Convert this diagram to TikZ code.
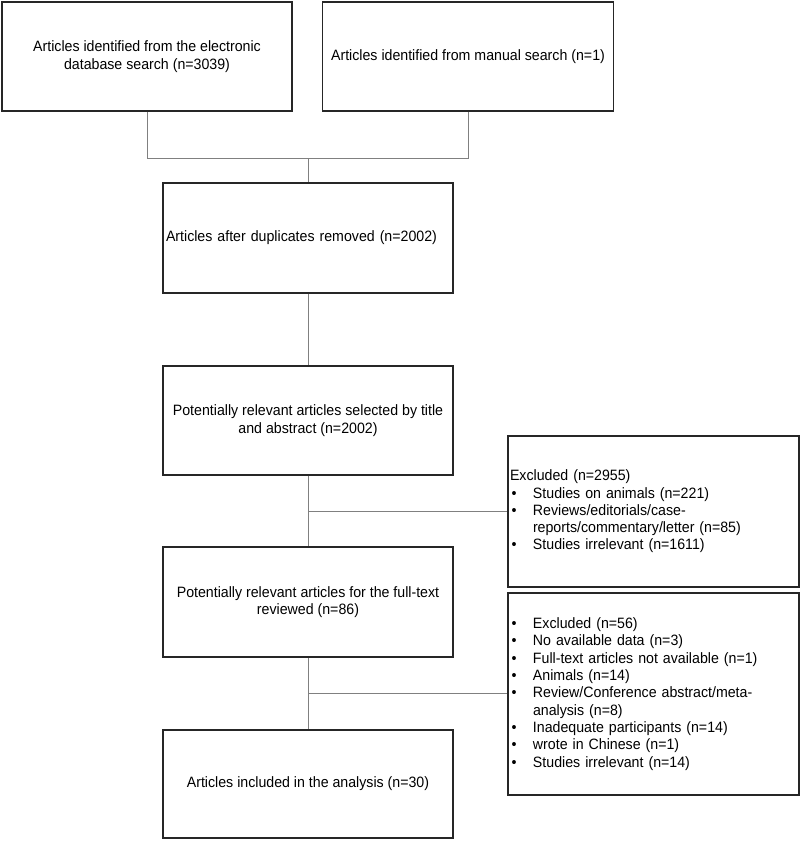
\documentclass[tikz,border=0pt]{standalone}
\usepackage{fontspec}
\setmainfont[FakeStretch=0.945]{Liberation Sans}
\newcommand{\bul}{\makebox[23pt][l]{\hspace{1.5pt}•}}
\newcommand{\ind}{\hspace*{23pt}}
\begin{document}
\begin{tikzpicture}[x=1pt,y=-1pt,
  box/.style={draw=black!85, line width=1.3pt, inner sep=0pt, align=center,
    font=\fontsize{15}{17.3}\selectfont},
  conn/.style={draw=black!50, line width=1pt}]
\useasboundingbox (0,0) rectangle (800,841);
\node[box, minimum width=290, minimum height=109] (b1) at (147,56.5)
  {Articles identified from the electronic\\database search (n=3039)};
\node[box, minimum width=291, minimum height=109] (b2) at (468,56.5)
  {Articles identified from manual search (n=1)};
\node[box, minimum width=290, minimum height=110, text width=284, align=left] (b3) at (308,238)
  {Articles after duplicates removed (n=2002)};
\node[box, minimum width=290, minimum height=109] (b4) at (308,420.5)
  {Potentially relevant articles selected by title\\and abstract (n=2002)};
\node[box, minimum width=290, minimum height=110] (b5) at (308,602)
  {Potentially relevant articles for the full-text\\reviewed (n=86)};
\node[box, minimum width=290, minimum height=108] (b6) at (308,784)
  {Articles included in the analysis (n=30)};
\node[box, minimum width=291, minimum height=151, text width=287, align=left] (e1) at (653.5,511.5)
  {Excluded (n=2955)\\
   \bul Studies on animals (n=221)\\
   \bul Reviews/editorials/case-\\
   \ind reports/commentary/letter (n=85)\\
   \bul Studies irrelevant (n=1611)};
\node[box, minimum width=291, minimum height=202, text width=287, align=left] (e2) at (653.5,694)
  {\bul Excluded (n=56)\\
   \bul No available data (n=3)\\
   \bul Full-text articles not available (n=1)\\
   \bul Animals (n=14)\\
   \bul Review/Conference abstract/meta-\\
   \ind analysis (n=8)\\
   \bul Inadequate participants (n=14)\\
   \bul wrote in Chinese (n=1)\\
   \bul Studies irrelevant (n=14)};
\coordinate (j1) at (308,158);
\coordinate (j2) at (308,511);
\coordinate (j3) at (308,693);
\draw[conn] (b1.south) |- (j1);
\draw[conn] (b2.south) |- (j1);
\draw[conn] (j1) -- (b3.north);
\draw[conn] (b3.south) -- (b4.north);
\draw[conn] (b4.south) -- (b5.north);
\draw[conn] (j2) -- (j2 -| e1.west);
\draw[conn] (b5.south) -- (b6.north);
\draw[conn] (j3) -- (j3 -| e2.west);
\end{tikzpicture}
\end{document}
